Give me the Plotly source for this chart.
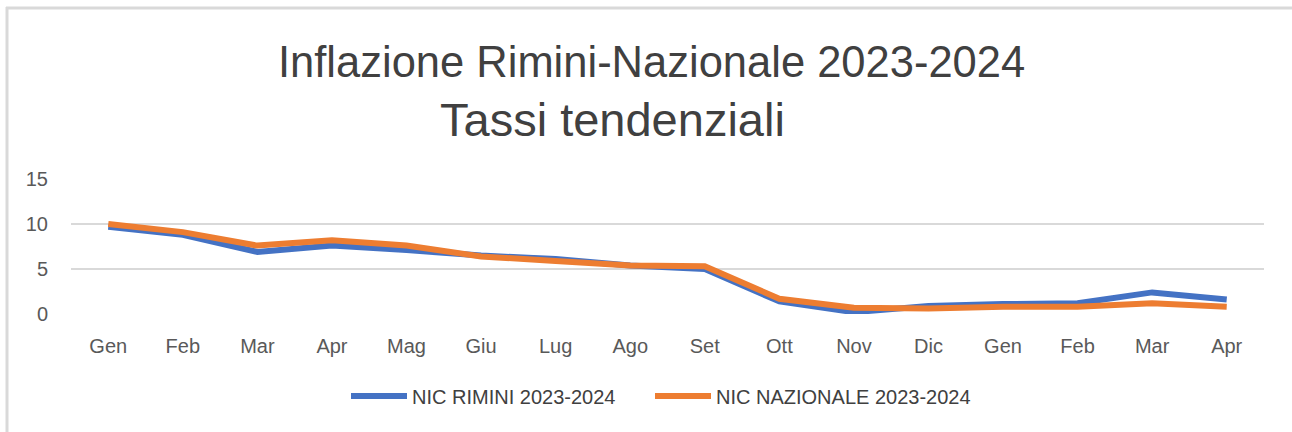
import plotly.graph_objects as go

months = ["Gen", "Feb", "Mar", "Apr", "Mag", "Giu", "Lug", "Ago", "Set", "Ott", "Nov", "Dic",
          "Gen ", "Feb ", "Mar ", "Apr "]
rimini = [9.7, 8.8, 6.9, 7.6, 7.1, 6.5, 6.1, 5.4, 5.0, 1.4, 0.2, 0.9, 1.1, 1.2, 2.4, 1.6]
nazionale = [10.0, 9.1, 7.6, 8.2, 7.6, 6.4, 5.9, 5.4, 5.3, 1.7, 0.7, 0.6, 0.8, 0.8, 1.2, 0.8]
tick_labels = ["Gen", "Feb", "Mar", "Apr", "Mag", "Giu", "Lug", "Ago", "Set", "Ott", "Nov", "Dic",
               "Gen", "Feb", "Mar", "Apr"]
y_ticks = [0, 5, 10, 15]

FONT = "Liberation Sans, Arial, sans-serif"
W, H = 1292, 432
L, R, T, B = 71, 28, 179, 118
pw = W - L - R
ph = H - T - B

def px_x(x):
    return (x - L) / pw

def px_y(y):
    return (H - B - y) / ph

fig = go.Figure()
fig.add_trace(go.Scatter(x=months, y=rimini, mode="lines", name="NIC RIMINI 2023-2024",
                         line=dict(color="#4472C4", width=6), legend="legend"))
fig.add_trace(go.Scatter(x=months, y=nazionale, mode="lines", name="NIC NAZIONALE 2023-2024",
                         line=dict(color="#ED7D31", width=6), legend="legend2"))

leg_common = dict(orientation="h", xanchor="left", yanchor="middle", y=px_y(396),
                  font=dict(size=20, color="#404040", family=FONT), itemwidth=56,
                  bgcolor="rgba(0,0,0,0)")

fig.update_layout(
    width=W, height=H,
    margin=dict(l=L, r=R, t=T, b=B),
    paper_bgcolor="white", plot_bgcolor="white",
    font=dict(family=FONT, color="#595959"),
    showlegend=True,
    legend=dict(x=px_x(346), **leg_common),
    legend2=dict(x=px_x(650), **leg_common),
    xaxis=dict(type="category", range=[-0.5, 15.5], tickmode="array",
               tickvals=months, ticktext=tick_labels, showgrid=False, zeroline=False,
               showline=False, ticks="", tickfont=dict(size=20, color="#595959", family=FONT),
               ticklabelstandoff=18),
    yaxis=dict(range=[0, 15], tickmode="array", tickvals=y_ticks, showgrid=True,
               gridcolor="#D9D9D9", gridwidth=2, zeroline=False, showline=False, ticks="",
               tickfont=dict(size=20, color="#595959", family=FONT), ticklabelstandoff=22),
    annotations=[
        dict(text="Inflazione Rimini-Nazionale 2023-2024", xref="paper", yref="paper",
             x=px_x(651), y=px_y(62), xanchor="center", yanchor="middle", showarrow=False,
             font=dict(size=43.5, color="#404040", family=FONT)),
        dict(text="Tassi tendenziali", xref="paper", yref="paper",
             x=px_x(612), y=px_y(119), xanchor="center", yanchor="middle", showarrow=False,
             font=dict(size=47, color="#404040", family=FONT)),
    ],
    shapes=[
        dict(type="line", xref="paper", yref="paper", x0=px_x(6), x1=px_x(1292),
             y0=px_y(8), y1=px_y(8), line=dict(color="#D9D9D9", width=3)),
        dict(type="line", xref="paper", yref="paper", x0=px_x(7), x1=px_x(7),
             y0=px_y(7), y1=px_y(432), line=dict(color="#D9D9D9", width=3)),
    ],
)

fig.write_html("out.html")
